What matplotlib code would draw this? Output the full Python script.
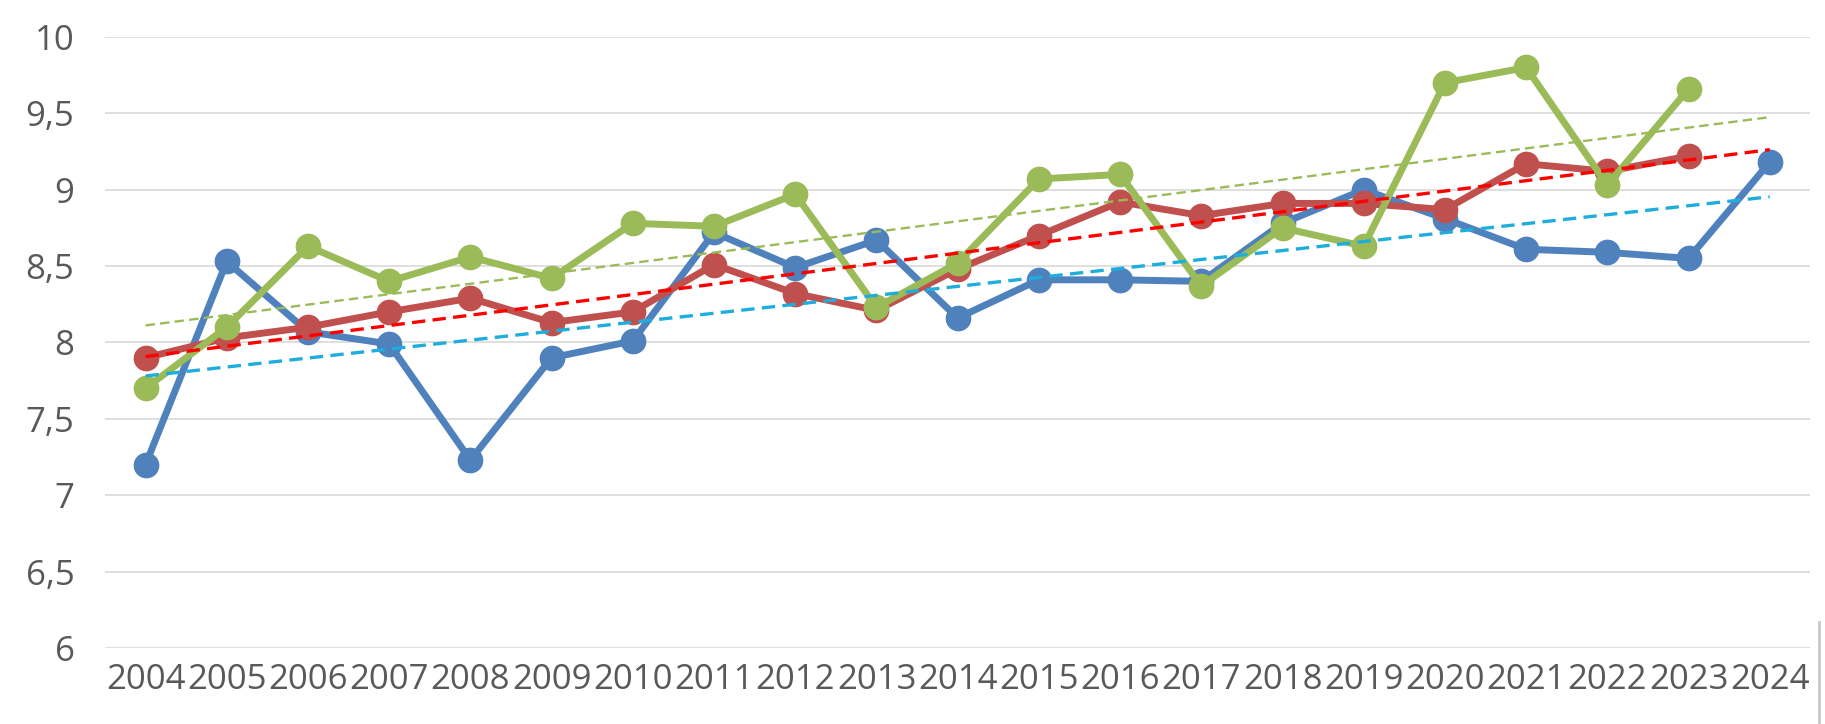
import matplotlib
matplotlib.use('Agg')
import matplotlib.pyplot as plt
import numpy as np

years = [str(y) for y in range(2004, 2025)]
yticks = [6, 6.5, 7, 7.5, 8, 8.5, 9, 9.5, 10]
ytick_labels = ['6', '6,5', '7', '7,5', '8', '8,5', '9', '9,5', '10']

# series values (None = no value)
blue = [7.2, 8.53, 8.07, 7.99, 7.23, 7.9, 8.01, 8.72, 8.49, 8.67, 8.16,
        8.41, 8.41, 8.40, 8.78, 9.0, 8.81, 8.61, 8.59, 8.55, 9.18]
red = [7.9, 8.03, 8.1, 8.2, 8.29, 8.13, 8.2, 8.51, 8.32, 8.21, 8.48,
       8.7, 8.92, 8.83, 8.91, 8.91, 8.87, 9.17, 9.12, 9.22, None]
green = [7.7, 8.1, 8.63, 8.4, 8.56, 8.42, 8.78, 8.76, 8.97, 8.23, 8.52,
         9.07, 9.1, 8.37, 8.75, 8.63, 9.7, 9.8, 9.03, 9.66, None]

series = [
    (blue, '#4F81BD', '#1FAEDB', 2.4),
    (red, '#C0504D', '#FF0000', 2.4),
    (green, '#9BBB59', '#9BBB59', 1.7),
]

plt.rcParams['font.family'] = ['Open Sans', 'DejaVu Sans']

fig = plt.figure(figsize=(18.25, 7.24), dpi=100)
ax = fig.add_axes([0.0575, 0.105, 0.9345, 0.844])

x = np.arange(len(years))
for vals, col, tcol, tlw in series:
    v = np.array([np.nan if a is None else a for a in vals], dtype=float)
    ax.plot(x, v, color=col, lw=5, marker='o', markersize=17.5,
            solid_capstyle='round', solid_joinstyle='round', zorder=3)

# linear trendlines (drawn above the series, like Excel does)
for vals, col, tcol, tlw in series:
    v = np.array([np.nan if a is None else a for a in vals], dtype=float)
    ok = ~np.isnan(v)
    k, b = np.polyfit(x[ok], v[ok], 1)
    ax.plot(x, k * x + b, color=tcol, lw=tlw, ls=(0, (4, 2.2)), zorder=4)

ax.set_xlim(-0.5, len(years) - 0.5)
ax.set_ylim(6, 10)
ax.set_yticks(yticks)
ax.set_yticklabels(ytick_labels)
ax.set_xticks(x)
ax.set_xticklabels(years)
ax.grid(axis='y', color='#D9D9D9', lw=1.2)
ax.set_axisbelow(True)
for s in ax.spines.values():
    s.set_visible(False)
ax.tick_params(length=0, labelsize=25, labelcolor='#595959')
ax.tick_params(axis='y', pad=22)
ax.tick_params(axis='x', pad=11)

# leftover selection border at the bottom right
fig.add_artist(plt.Line2D([1819 / 1825, 1819 / 1825], [0, 102 / 724],
                          color='#C8C8C8', lw=2))

fig.savefig('out.png', dpi=100)
